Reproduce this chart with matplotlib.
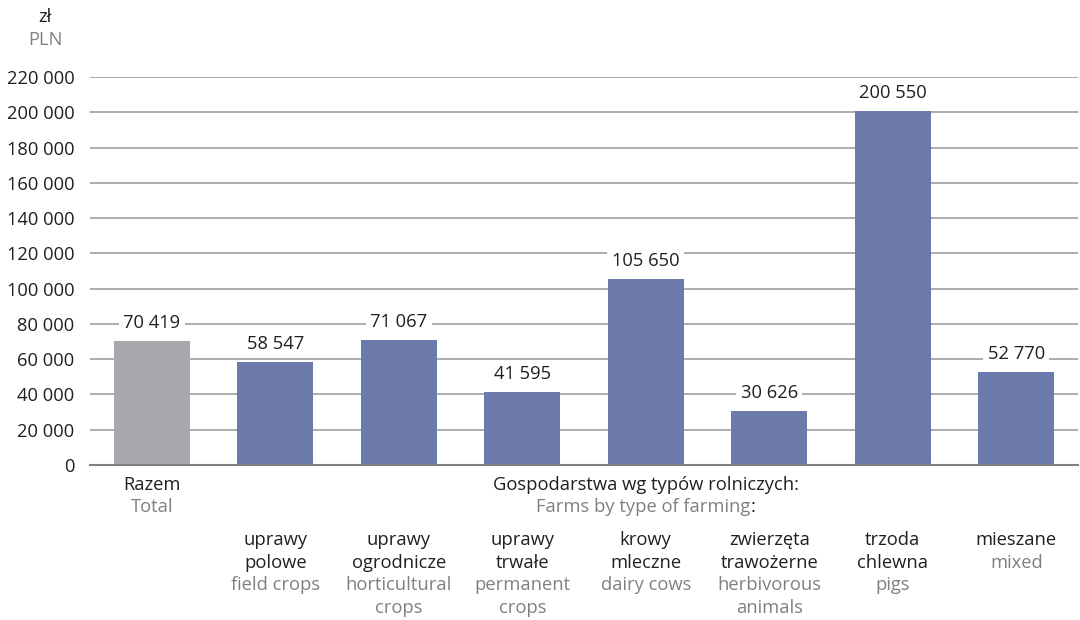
import matplotlib
matplotlib.use("Agg")
import matplotlib.pyplot as plt
from matplotlib.transforms import ScaledTranslation

plt.rcParams['font.family'] = ['Open Sans', 'DejaVu Sans']

values = [70419, 58547, 71067, 41595, 105650, 30626, 200550, 52770]
labels_pl = ["Razem", "uprawy\npolowe", "uprawy\nogrodnicze", "uprawy\ntrwałe",
             "krowy\nmleczne", "zwierzęta\ntrawożerne", "trzoda\nchlewna", "mieszane"]
labels_en = ["Total", "field crops", "horticultural\ncrops", "permanent\ncrops",
             "dairy cows", "herbivorous\nanimals", "pigs", "mixed"]
yticks = list(range(0, 220001, 20000))
group_pl = "Gospodarstwa wg typów rolniczych:"
group_en = "Farms by type of farming"
unit_pl = "zł"
unit_en = "PLN"

GRAY_BAR = "#a7a8ab"
BLUE = "#6b7aab"
EN_COL = "#808080"
TXT = "#231f20"
FS = 13.2

fig = plt.figure(figsize=(10.8, 6.2), dpi=100)
ax = fig.add_axes([90/1080, 1 - 465/620, (1078-90)/1080, (465-77)/620])

x = list(range(len(values)))
colors = [GRAY_BAR] + [BLUE] * (len(values) - 1)
ax.bar(x, values, width=0.615, color=colors, zorder=3)
ax.set_xlim(-0.5, len(values) - 0.5)
ax.set_ylim(0, 220000)
ax.set_yticks(yticks)
ax.set_yticklabels([f"{v:,}".replace(",", " ") for v in yticks], fontsize=FS, color=TXT)
ax.tick_params(axis='y', length=0, pad=11)
ax.set_xticks([])
ax.grid(axis='y', color="#a0a0a0", linewidth=1.2, zorder=0)
for s in ["top", "right", "left"]:
    ax.spines[s].set_visible(False)
ax.spines["bottom"].set_color("#808080")
ax.spines["bottom"].set_linewidth(1.5)
ax.spines["bottom"].set_zorder(4)

for xi, v in zip(x, values):
    ax.annotate(f"{v:,}".replace(",", " "), (xi, v), xytext=(0, 13), textcoords="offset points",
                ha="center", va="center", fontsize=FS, color=TXT, zorder=5,
                bbox=dict(boxstyle="square,pad=0.25", fc="white", ec="none"))

tr = ax.get_xaxis_transform()
ax.text(0, -0.052, labels_pl[0], transform=tr, ha="center", va="center", fontsize=FS, color=TXT)
ax.text(0, -0.109, labels_en[0], transform=tr, ha="center", va="center", fontsize=FS, color=EN_COL)

gc = (1 + len(values) - 1) / 2
ax.text(gc, -0.052, group_pl, transform=tr, ha="center", va="center", fontsize=FS, color=TXT)

line_h = 0.058
y0 = -0.194
for xi in x[1:]:
    pl_lines = labels_pl[xi].split("\n")
    en_lines = labels_en[xi].split("\n")
    k = 0
    for ln in pl_lines:
        ax.text(xi, y0 - k * line_h, ln, transform=tr, ha="center", va="center", fontsize=FS, color=TXT)
        k += 1
    for ln in en_lines:
        ax.text(xi, y0 - k * line_h, ln, transform=tr, ha="center", va="center", fontsize=FS, color=EN_COL)
        k += 1

fig.text(45/1080, 1 - 17/620, unit_pl, ha="center", va="center", fontsize=FS, color=TXT)
fig.text(45/1080, 1 - 40/620, unit_en, ha="center", va="center", fontsize=FS, color=EN_COL)

# English group title in gray with a black colon, centred as a whole
fig.canvas.draw()
r = fig.canvas.get_renderer()
tmp_colon = ax.text(0, 0, ":", fontsize=FS)
cw = tmp_colon.get_window_extent(r).width / fig.dpi
tmp_colon.remove()
shift = ScaledTranslation(-cw / 2, 0, fig.dpi_scale_trans)
ten = ax.text(gc, -0.109, group_en, transform=tr + shift, ha="center", va="center", fontsize=FS, color=EN_COL)
fig.canvas.draw()
bb = ten.get_window_extent(r)
fig.text(bb.x1 / fig.dpi / 10.8, (bb.y0 + bb.y1) / 2 / fig.dpi / 6.2, ":", ha="left", va="center",
         fontsize=FS, color=TXT)

fig.savefig("out.png", dpi=100, facecolor="white")
